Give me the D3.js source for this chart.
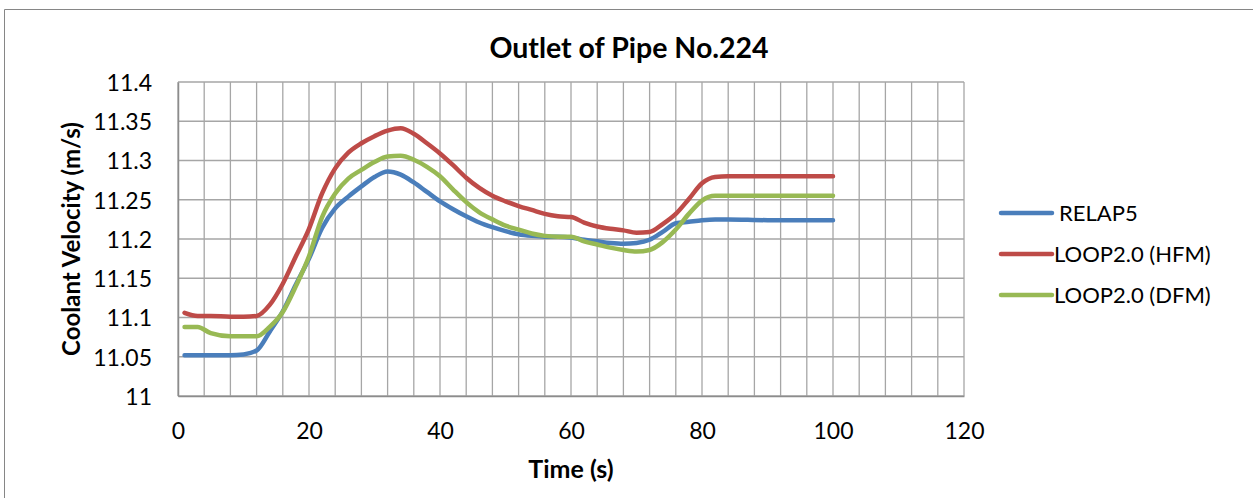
<!DOCTYPE html>
<html>
<head>
<meta charset="utf-8">
<script src="https://cdn.jsdelivr.net/npm/d3@7"></script>
<style>
  html, body { margin: 0; padding: 0; background: #fff; }
  svg { display: block; }
  text { font-family: Lato, "Open Sans", sans-serif; fill: #000; }
</style>
</head>
<body>
<svg id="chart" width="1253" height="498"></svg>
<script>
// Time samples (s)
const time = [1,3,5,8,10,12,14,16,18,20,22,24,26,28,30,32,34,36,38,40,42,44,46,48,50,52,54,56,58,60,62,64,66,68,70,72,74,76,78,80,82,84,90,95,100];

// Coolant velocity (m/s) for each model
const relap5 = [11.052,11.052,11.052,11.052,11.053,11.058,11.082,11.108,11.142,11.175,11.214,11.239,11.254,11.267,11.279,11.286,11.282,11.272,11.260,11.248,11.238,11.229,11.221,11.215,11.210,11.206,11.204,11.203,11.203,11.202,11.199,11.197,11.195,11.194,11.195,11.199,11.209,11.220,11.222,11.224,11.225,11.225,11.224,11.224,11.224];
const loopHFM = [11.106,11.102,11.102,11.101,11.101,11.102,11.116,11.143,11.178,11.213,11.258,11.290,11.310,11.322,11.331,11.338,11.341,11.334,11.322,11.309,11.294,11.278,11.265,11.255,11.248,11.242,11.237,11.232,11.229,11.228,11.221,11.216,11.213,11.211,11.208,11.209,11.219,11.232,11.251,11.271,11.279,11.280,11.280,11.280,11.280];
const loopDFM = [11.088,11.088,11.080,11.076,11.076,11.076,11.088,11.107,11.140,11.178,11.228,11.258,11.277,11.288,11.298,11.305,11.306,11.301,11.292,11.280,11.263,11.247,11.234,11.225,11.217,11.212,11.207,11.204,11.203,11.203,11.197,11.193,11.189,11.186,11.184,11.186,11.196,11.212,11.232,11.249,11.255,11.255,11.255,11.255,11.255];

const seriesNames = ["RELAP5", "LOOP2.0 (HFM)", "LOOP2.0 (DFM)"];
const seriesColors = ["#4a7ebb", "#be4b48", "#98b954"];

const xTicks = [0, 20, 40, 60, 80, 100, 120];
const xGrid = d3.range(0, 121, 4);
const yTicks = [11, 11.05, 11.1, 11.15, 11.2, 11.25, 11.3, 11.35, 11.4];

const svg = d3.select("#chart");

// chart frame (top and left edges visible)
svg.append("path")
  .attr("d", "M4.5,498 L4.5,9.5 L1253,9.5")
  .attr("fill", "none")
  .attr("stroke", "#868686")
  .attr("stroke-width", 1);

const plot = { left: 178, right: 964, top: 82, bottom: 396 };

const x = d3.scaleLinear().domain([0, 120]).range([plot.left, plot.right]);
const y = d3.scaleLinear().domain([11, 11.4]).range([plot.bottom, plot.top]);

// grid
const grid = svg.append("g").attr("stroke", "#a6a6a6").attr("stroke-width", 1.3);
grid.selectAll("line.v").data(xGrid).join("line")
  .attr("x1", d => x(d)).attr("x2", d => x(d))
  .attr("y1", plot.top).attr("y2", plot.bottom);
grid.selectAll("line.h").data(yTicks).join("line")
  .attr("x1", plot.left).attr("x2", plot.right)
  .attr("y1", d => y(d)).attr("y2", d => y(d));

// axes
const xAxis = d3.axisBottom(x).tickValues(xTicks).tickSize(0).tickPadding(0).tickFormat(d3.format("d"));
const gx = svg.append("g").attr("transform", `translate(0,${plot.bottom})`).call(xAxis);
gx.select(".domain").attr("stroke", "#8c8c8c").attr("stroke-width", 1.5);
gx.selectAll("text").attr("dy", null).attr("y", 43).attr("font-size", 23)
  .style("font-family", "Lato, sans-serif");

const yAxis = d3.axisLeft(y).tickValues(yTicks).tickSize(0).tickPadding(0).tickFormat(d => String(+d.toFixed(2)));
const gy = svg.append("g").attr("transform", `translate(${plot.left},0)`).call(yAxis);
gy.select(".domain").attr("stroke", "#8c8c8c").attr("stroke-width", 1.5);
gy.selectAll("text").attr("x", -26).attr("dy", "0.36em").attr("font-size", 23)
  .style("font-family", "Lato, sans-serif");

// series lines
const line = d3.line()
  .x(d => x(d[0]))
  .y(d => y(d[1]))
  .curve(d3.curveMonotoneX);

const allSeries = [relap5, loopHFM, loopDFM];
allSeries.forEach((vals, i) => {
  svg.append("path")
    .datum(time.map((t, k) => [t, vals[k]]))
    .attr("fill", "none")
    .attr("stroke", seriesColors[i])
    .attr("stroke-width", 4.5)
    .attr("stroke-linecap", "round")
    .attr("stroke-linejoin", "round")
    .attr("d", line);
});

// title
svg.append("text")
  .attr("x", 629).attr("y", 58)
  .attr("text-anchor", "middle")
  .attr("font-size", 28.5).attr("font-weight", "bold")
  .text("Outlet of Pipe No.224");

// axis titles
svg.append("text")
  .attr("x", x(60)).attr("y", 478)
  .attr("text-anchor", "middle")
  .attr("font-size", 25).attr("font-weight", "bold")
  .text("Time (s)");

svg.append("text")
  .attr("transform", `translate(80,${(plot.top + plot.bottom) / 2}) rotate(-90)`)
  .attr("text-anchor", "middle")
  .attr("font-size", 24).attr("font-weight", "bold")
  .text("Coolant Velocity (m/s)");

// legend
const legendY = [213, 254, 295];
const legend = svg.append("g");
seriesNames.forEach((name, i) => {
  legend.append("line")
    .attr("x1", 1001).attr("x2", 1052)
    .attr("y1", legendY[i]).attr("y2", legendY[i])
    .attr("stroke", seriesColors[i])
    .attr("stroke-width", 4.5)
    .attr("stroke-linecap", "round");
  legend.append("text")
    .attr("x", i === 0 ? 1059 : 1054)
    .attr("y", legendY[i])
    .attr("dy", "0.36em")
    .attr("font-size", 22)
    .text(name);
});
</script>
</body>
</html>
